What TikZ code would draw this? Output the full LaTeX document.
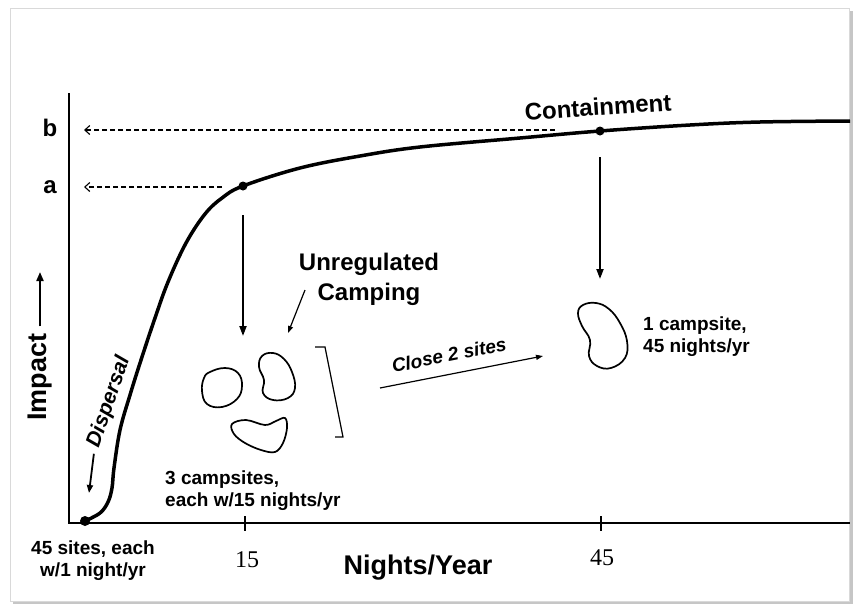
\documentclass[tikz,border=0pt]{standalone}
\usepackage{fontspec}
\setmainfont{Liberation Sans}
\newfontfamily\numfont{Liberation Serif}
\usetikzlibrary{arrows.meta}
\begin{document}
\begin{tikzpicture}[x = 1pt, y = -1pt,
        lbl/.style = {inner sep = 0pt, font = \bfseries\fontsize{19}{22}\selectfont},
        big/.style = {inner sep = 0pt, font = \bfseries\fontsize{24}{30}\selectfont},
        guide/.style = {line width = 1.1pt, dash pattern = on 5pt off 3pt,
            -{Straight Barb[length = 5pt, width = 9pt]}},
        drop/.style = {line width = 2pt, -{Triangle[length = 10pt, width = 7pt]}},
        pointer/.style = {line width = 1.2pt, -{Triangle[length = 7pt, width = 5pt]}},
        site/.style = {line width = 1.7pt}]
                \useasboundingbox (0, 0) rectangle (855, 606);
                \fill [gray!45] (13, 11) rectangle (853, 604);
                \filldraw [fill = white, draw = gray!30] (10, 8) rectangle (849, 601);

                \draw [line width = 2.2pt] (69, 93) -- (69, 523) -- (850, 523);
                \draw [line width = 2pt] (245, 516) -- (245, 531);
                \draw [line width = 2pt] (601, 516) -- (601, 531);

                \draw [line width = 3.5pt, smooth, tension = 0.6] plot coordinates {
                    (85, 521) (100, 513) (108, 502) (112, 488) (114, 468) (120, 430)
                    (130, 395) (141, 360) (155, 318) (168, 282) (186, 243) (205, 214)
                    (222, 198) (243, 186) (300, 168) (360, 156) (420, 147) (520, 138)
                    (600, 131) (690, 125) (760, 122) (850, 121)
                };
                \coordinate (p0) at (85, 521);
                \coordinate (pa) at (243, 186);
                \coordinate (pb) at (600, 131);
                \fill (p0) circle (5pt);
                \fill (pa) circle (4.5pt);
                \fill (pb) circle (4.5pt);

                \node [big] (labb) at (50, 128) {b};
                \node [big] (laba) at (50, 187) {a};
                \coordinate (bstart) at (555, 130);
                \coordinate (astart) at (222, 187);
                \coordinate (btip) at (84, 130);
                \coordinate (atip) at (84, 187);
                \draw [guide] (bstart) -- (btip);
                \draw [guide] (astart) -- (atip);

                \node [big, rotate = 90, inner sep = 7pt, font = \bfseries\fontsize{27}{30}\selectfont]
                    (impact) at (40, 377) {Impact};
                \coordinate (impup) at (40, 272);
                \draw [line width = 2pt, -{Triangle[length = 9pt, width = 7pt]}] (impact.east) -- (impup);

                \node [rotate = 71, inner sep = 2pt, font = \bfseries\itshape\fontsize{21}{24}\selectfont]
                    (disp) at (109, 402) {Dispersal};
                \coordinate (dispend) at (89, 493);
                \draw [line width = 1.8pt, -{Triangle[length = 8pt, width = 6pt]}]
                    ([shift = {(1, 5)}]disp.west) -- (dispend);

                \coordinate (dropa) at (243, 215);
                \coordinate (landa) at (243, 336);
                \coordinate (dropb) at (600, 157);
                \coordinate (landb) at (600, 279);
                \draw [drop] (dropa) -- (landa);
                \draw [drop] (dropb) -- (landb);

                \node [big, align = center] (unreg) at (369, 279) {Unregulated\\Camping};
                \coordinate (unregfrom) at (305, 290);
                \coordinate (unregto) at (288, 333);
                \draw [pointer] (unregfrom) -- (unregto);

                \draw [site] plot [smooth cycle, tension = 0.7] coordinates {
                    (210, 372) (225, 368) (238, 373) (242, 386) (237, 399) (222, 407)
                    (207, 404) (202, 391) (204, 378)
                };
                \draw [site] plot [smooth cycle, tension = 0.7] coordinates {
                    (262, 356) (273, 353) (284, 359) (292, 372) (295, 388) (288, 398)
                    (273, 400) (263, 393) (264, 380) (259, 367)
                };
                \draw [site] plot [smooth cycle, tension = 0.6] coordinates {
                    (232, 424) (246, 420) (265, 425) (276, 421) (285, 418) (287, 428)
                    (283, 443) (275, 452) (261, 450) (245, 443) (234, 434)
                };
                \draw [line width = 1.2pt] (315, 347) -- (325, 347) -- (343, 437) -- (335, 437);

                \node [lbl, align = left, anchor = west] (three) at (165, 491)
                    {3 campsites,\\each w/15 nights/yr};

                \node [lbl, rotate = 11, font = \bfseries\itshape\fontsize{19}{22}\selectfont]
                    (close) at (449, 355) {Close 2 sites};
                \coordinate (closefrom) at (380, 388);
                \coordinate (closeto) at (543, 356);
                \draw [pointer] (closefrom) -- (closeto);

                \draw [site] plot [smooth cycle, tension = 0.7] coordinates {
                    (583, 305) (596, 303) (609, 309) (620, 323) (627, 341) (625, 358)
                    (611, 368) (597, 366) (589, 356) (590, 340) (582, 326) (578, 313)
                };
                \node [lbl, align = left, anchor = west] (one) at (643, 337)
                    {1 campsite,\\45 nights/yr};

                \node [big, rotate = 4] (cont) at (598, 107) {Containment};

                \node [lbl, align = center] (fortyfive) at (93, 561) {45 sites, each\\w/1 night/yr};
                \node [inner sep = 0pt, font = \numfont\fontsize{24}{26}\selectfont] (tick15) at (247, 560) {15};
                \node [inner sep = 0pt, font = \numfont\fontsize{24}{26}\selectfont] (tick45) at (602, 558) {45};
                \node [big, font = \bfseries\fontsize{27}{30}\selectfont] (xlab) at (418, 568) {Nights/Year};
\end{tikzpicture}
\end{document}
